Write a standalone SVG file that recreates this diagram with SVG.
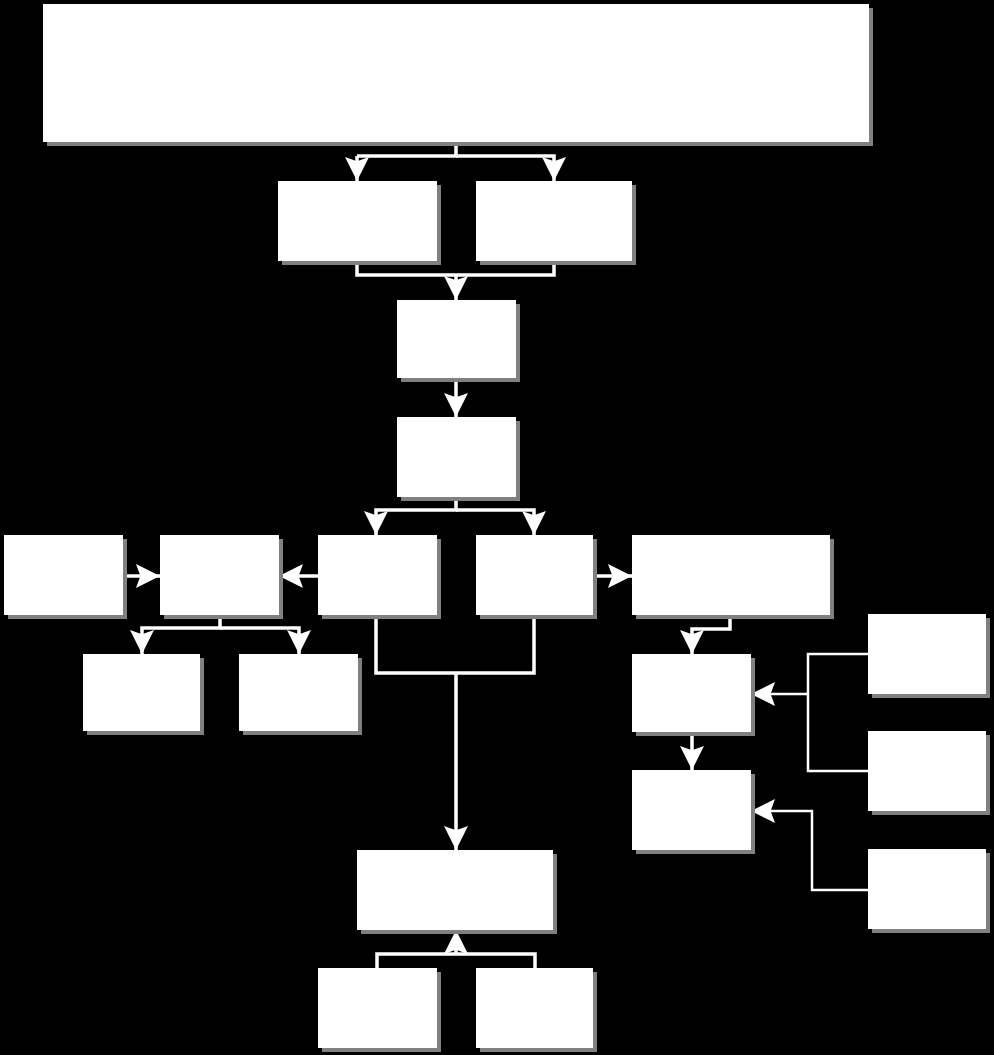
<svg xmlns="http://www.w3.org/2000/svg" width="994" height="1055" viewBox="0 0 994 1055">
<style>
.sh{fill:#808080}
.bx{fill:#ffffff}
.c{fill:none;stroke:#ffffff;stroke-width:3.5;stroke-linejoin:miter}
.t{stroke-width:2.5}
</style>
<defs>
<marker id="ah" viewBox="0 0 22 22" refX="22" refY="11" markerWidth="24" markerHeight="24" markerUnits="userSpaceOnUse" orient="auto">
<path d="M0,0 L22,11 L0,22 L4,11 Z" fill="#ffffff"/>
</marker>
</defs>
<rect width="994" height="1055" fill="#000000"/>
<g id="connectors">
<path class="c" d="M456,142 V156 H357" />
<path class="c" d="M357,156 V181" marker-end="url(#ah)"/>
<path class="c" d="M456,156 H554 V181" marker-end="url(#ah)"/>
<path class="c" d="M357,261 V275 H554 V261"/>
<path class="c" d="M456,275 V300" marker-end="url(#ah)"/>
<path class="c" d="M456,378 V417" marker-end="url(#ah)"/>
<path class="c" d="M456,497 V510 H376 V535" marker-end="url(#ah)"/>
<path class="c" d="M456,510 H534 V535" marker-end="url(#ah)"/>
<path class="c" d="M123,576 H160" marker-end="url(#ah)"/>
<path class="c" d="M318,576 H279" marker-end="url(#ah)"/>
<path class="c" d="M593,576 H632" marker-end="url(#ah)"/>
<path class="c" d="M220,615 V628 H142 V654" marker-end="url(#ah)"/>
<path class="c" d="M220,628 H299 V654" marker-end="url(#ah)"/>
<path class="c" d="M376,615 V673 H534 V615"/>
<path class="c" d="M456,673 V850" marker-end="url(#ah)"/>
<path class="c" d="M377,968 V954 H535 V968"/>
<path class="c" d="M456,954 V930" marker-end="url(#ah)"/>
<path class="c" d="M730,615 V629 H692 V654" marker-end="url(#ah)"/>
<path class="c" d="M692,732 V770" marker-end="url(#ah)"/>
<path class="c t" d="M868,654 H808 V771 H868"/>
<path class="c t" d="M808,694 H751" marker-end="url(#ah)"/>
<path class="c t" d="M868,890 H812 V811 H751" marker-end="url(#ah)"/>
</g>
<g id="n-top"><rect class="sh" x="47" y="8" width="826" height="138"/><rect class="bx" x="43" y="4" width="826" height="138"/></g>
<g id="n-r2a"><rect class="sh" x="282" y="185" width="159" height="80"/><rect class="bx" x="278" y="181" width="159" height="80"/></g>
<g id="n-r2b"><rect class="sh" x="480" y="185" width="156" height="80"/><rect class="bx" x="476" y="181" width="156" height="80"/></g>
<g id="n-r3"><rect class="sh" x="401" y="304" width="119" height="78"/><rect class="bx" x="397" y="300" width="119" height="78"/></g>
<g id="n-r4"><rect class="sh" x="401" y="421" width="119" height="80"/><rect class="bx" x="397" y="417" width="119" height="80"/></g>
<g id="n-a"><rect class="sh" x="8" y="539" width="119" height="80"/><rect class="bx" x="4" y="535" width="119" height="80"/></g>
<g id="n-b"><rect class="sh" x="164" y="539" width="119" height="80"/><rect class="bx" x="160" y="535" width="119" height="80"/></g>
<g id="n-c"><rect class="sh" x="322" y="539" width="119" height="80"/><rect class="bx" x="318" y="535" width="119" height="80"/></g>
<g id="n-d"><rect class="sh" x="480" y="539" width="117" height="80"/><rect class="bx" x="476" y="535" width="117" height="80"/></g>
<g id="n-e"><rect class="sh" x="636" y="539" width="198" height="80"/><rect class="bx" x="632" y="535" width="198" height="80"/></g>
<g id="n-f"><rect class="sh" x="87" y="658" width="117" height="77"/><rect class="bx" x="83" y="654" width="117" height="77"/></g>
<g id="n-g"><rect class="sh" x="243" y="658" width="119" height="77"/><rect class="bx" x="239" y="654" width="119" height="77"/></g>
<g id="n-k"><rect class="sh" x="636" y="658" width="119" height="78"/><rect class="bx" x="632" y="654" width="119" height="78"/></g>
<g id="n-l"><rect class="sh" x="636" y="774" width="119" height="80"/><rect class="bx" x="632" y="770" width="119" height="80"/></g>
<g id="n-m"><rect class="sh" x="872" y="618" width="118" height="80"/><rect class="bx" x="868" y="614" width="118" height="80"/></g>
<g id="n-n"><rect class="sh" x="872" y="735" width="118" height="80"/><rect class="bx" x="868" y="731" width="118" height="80"/></g>
<g id="n-o"><rect class="sh" x="872" y="853" width="118" height="80"/><rect class="bx" x="868" y="849" width="118" height="80"/></g>
<g id="n-h"><rect class="sh" x="361" y="854" width="196" height="80"/><rect class="bx" x="357" y="850" width="196" height="80"/></g>
<g id="n-i"><rect class="sh" x="322" y="972" width="119" height="80"/><rect class="bx" x="318" y="968" width="119" height="80"/></g>
<g id="n-j"><rect class="sh" x="480" y="972" width="117" height="80"/><rect class="bx" x="476" y="968" width="117" height="80"/></g>
</svg>
